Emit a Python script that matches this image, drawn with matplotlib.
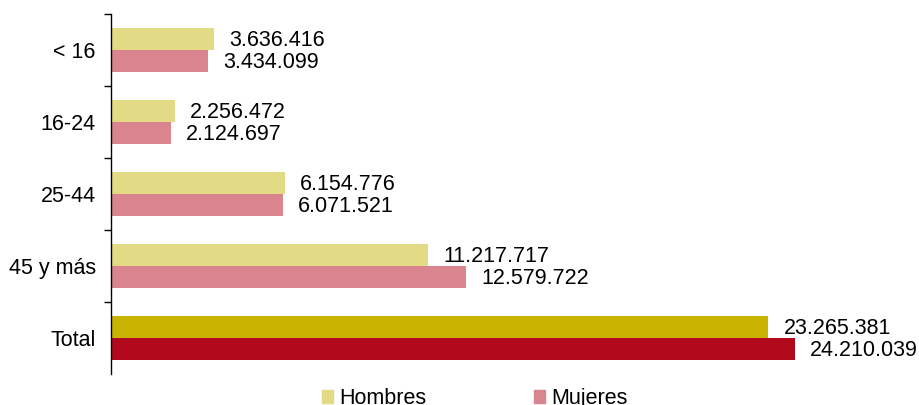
import numpy as np
import matplotlib.pyplot as plt
from matplotlib.patches import Patch

plt.rcParams['font.family'] = ['Liberation Sans', 'DejaVu Sans']

categorias = ["< 16", "16-24", "25-44", "45 y más", "Total"]
hombres = [3636416, 2256472, 6154776, 11217717, 23265381]
mujeres = [3434099, 2124697, 6071521, 12579722, 24210039]

col_h = ["#E3DA85"] * 4 + ["#C8B400"]
col_m = ["#D9848E"] * 4 + ["#B20A1C"]


def fmt(v):
    return f"{v:,}".replace(",", ".")


fig = plt.figure(figsize=(9.19, 4.05), dpi=100)
ax = fig.add_axes([111 / 919, 31 / 405, (900 - 111) / 919, 360 / 405])

y = np.arange(len(categorias))
h = 0.3
bh = ax.barh(y - h / 2, hombres, height=h, color=col_h)
bm = ax.barh(y + h / 2, mujeres, height=h, color=col_m)

for bars, vals in ((bh, hombres), (bm, mujeres)):
    for b, v in zip(bars, vals):
        ax.annotate(fmt(v), (b.get_width(), b.get_y() + b.get_height() / 2),
                    xytext=(11, -1), textcoords="offset points",
                    va="center", ha="left", fontsize=15.5)

ax.set_xlim(0, (900 - 111) / 28.25 * 1e6)
ax.set_ylim(len(categorias) - 0.5, -0.5)

ax.set_yticks(y)
ax.set_yticklabels(categorias, fontsize=15.5)
ax.tick_params(axis="y", which="major", length=0, pad=11)
# marcas entre categorias (sin la de abajo)
ax.set_yticks(np.arange(-0.5, len(categorias) - 1), minor=True)
ax.tick_params(axis="y", which="minor", length=5, width=1)
ax.set_xticks([])

for s in ("top", "right", "bottom"):
    ax.spines[s].set_visible(False)
ax.spines["left"].set_linewidth(1)

handles = [Patch(color="#E3DA85"), Patch(color="#D9848E")]
fig.legend(handles, ["Hombres", "Mujeres"], loc="center",
           bbox_to_anchor=(0.517, 0.016), ncol=2, frameon=False,
           fontsize=15.5, handlelength=0.5, handleheight=0.5,
           handletextpad=0.3, columnspacing=5.0)

fig.savefig("out.png", dpi=100)
